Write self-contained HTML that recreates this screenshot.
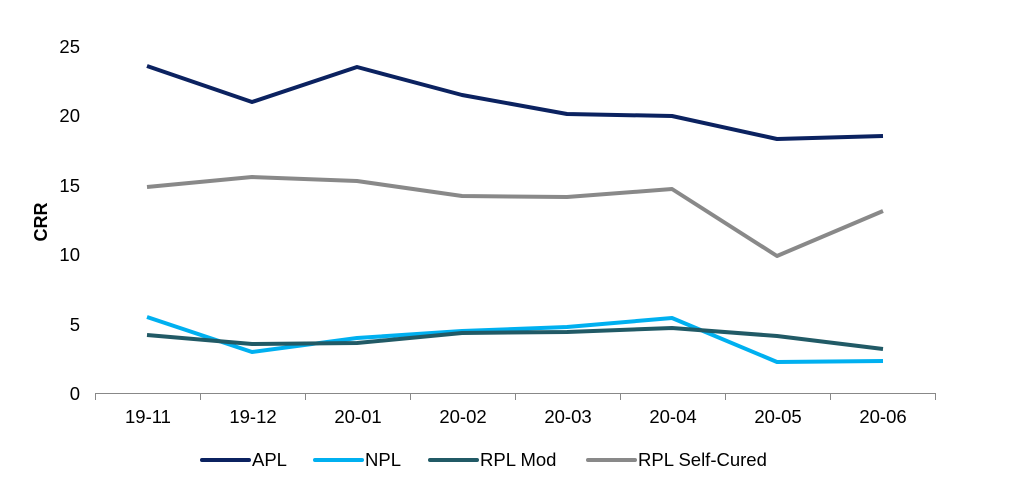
<!DOCTYPE html>
<html><head><meta charset="utf-8"><style>
body{margin:0;background:#fff;}
svg{display:block;font-family:"Liberation Sans",Arial,sans-serif;}
</style></head><body>
<svg width="1024" height="496" viewBox="0 0 1024 496">
<g font-size="18.5" fill="#000" text-anchor="end">
<text x="80" y="400">0</text>
<text x="80" y="331">5</text>
<text x="80" y="261">10</text>
<text x="80" y="192">15</text>
<text x="80" y="122">20</text>
<text x="80" y="53">25</text>
</g>
<text transform="translate(47,222) rotate(-90)" font-size="18" font-weight="bold" text-anchor="middle">CRR</text>
<g stroke="#888" stroke-width="1">
<line x1="95" y1="393.5" x2="936" y2="393.5"/>
<line x1="95.5" y1="393" x2="95.5" y2="400"/>
<line x1="200.5" y1="393" x2="200.5" y2="400"/>
<line x1="305.5" y1="393" x2="305.5" y2="400"/>
<line x1="410.5" y1="393" x2="410.5" y2="400"/>
<line x1="515.5" y1="393" x2="515.5" y2="400"/>
<line x1="620.5" y1="393" x2="620.5" y2="400"/>
<line x1="725.5" y1="393" x2="725.5" y2="400"/>
<line x1="830.5" y1="393" x2="830.5" y2="400"/>
<line x1="935.5" y1="393" x2="935.5" y2="400"/>
</g>
<g font-size="18.5" text-anchor="middle">
<text x="148" y="423">19-11</text><text x="253" y="423">19-12</text>
<text x="358" y="423">20-01</text><text x="463" y="423">20-02</text>
<text x="568" y="423">20-03</text><text x="673" y="423">20-04</text>
<text x="778" y="423">20-05</text><text x="883" y="423">20-06</text>
</g>
<g fill="none" stroke-width="4" stroke-linejoin="round">
<polyline stroke="#898989" points="147,187 252,177 357,181 462,196 567,197 672,189 777,256 883,211"/>
<polyline stroke="#00b0f0" points="147,317 252,352 357,338 462,331 567,327 672,318 777,362 883,361"/>
<polyline stroke="#215a66" points="147,335 252,344 357,343 462,333 567,332 672,328 777,336 883,349"/>
<polyline stroke="#0b2260" points="147,66 252,102 357,67 462,95 567,114 672,116 777,139 883,136"/>
</g>
<g font-size="18.5" stroke-linecap="round">
<line x1="202" y1="460" x2="249" y2="460" stroke="#0b2260" stroke-width="4"/><text x="252" y="466">APL</text>
<line x1="315" y1="460" x2="362" y2="460" stroke="#00b0f0" stroke-width="4"/><text x="365" y="466">NPL</text>
<line x1="430" y1="460" x2="477" y2="460" stroke="#215a66" stroke-width="4"/><text x="480" y="466">RPL Mod</text>
<line x1="588" y1="460" x2="635" y2="460" stroke="#898989" stroke-width="4"/><text x="638" y="466">RPL Self-Cured</text>
</g>
</svg>
</body></html>
